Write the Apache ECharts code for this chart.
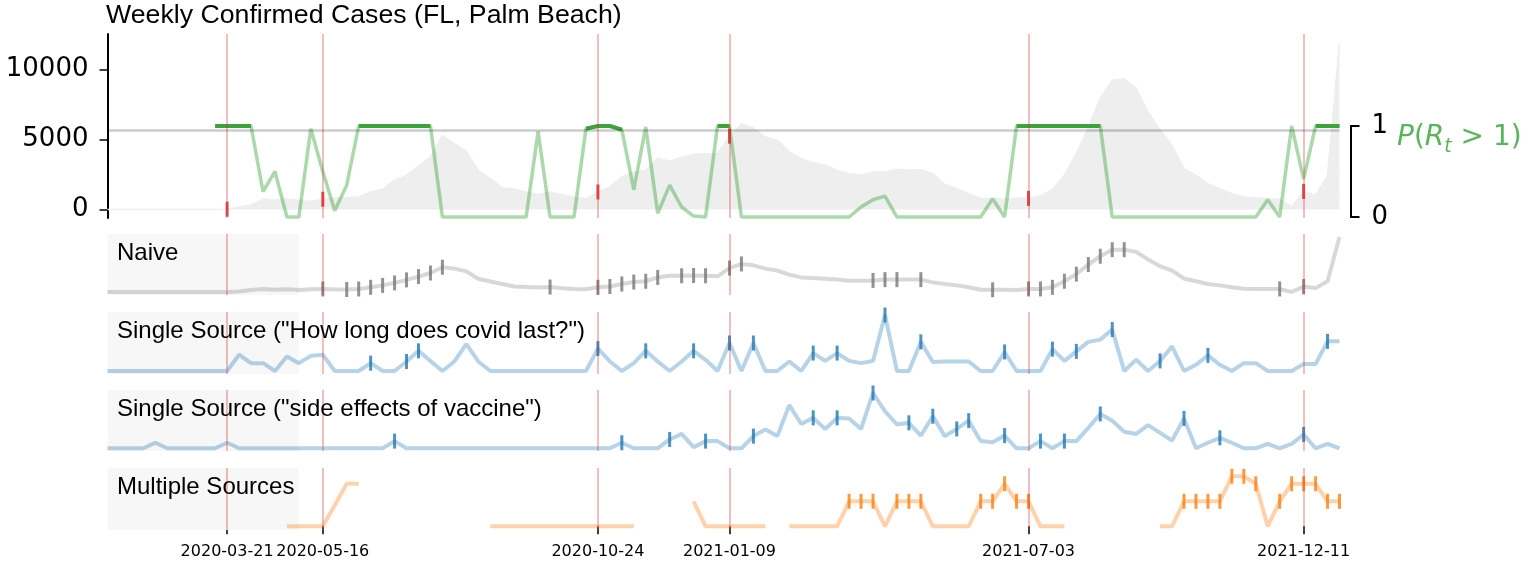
<!DOCTYPE html>
<html>
<head>
<meta charset="utf-8">
<script src="https://cdn.jsdelivr.net/npm/echarts@6/dist/echarts.min.js"></script>
<style>
  html, body { margin: 0; padding: 0; background: #fff; }
  #chart { width: 1529px; height: 570px; }
</style>
</head>
<body>
<div id="chart"></div>
<script>
// weekly dates, 2020-01-11 .. 2022-01-01
const START = Date.UTC(2020, 0, 11);
const N_WEEKS = 104;
const categories = [];
for (let i = 0; i < N_WEEKS; i++) {
  categories.push(new Date(START + i * 7 * 864e5).toISOString().slice(0, 10));
}
const markedDates = ["2020-03-21", "2020-05-16", "2020-10-24", "2021-01-09", "2021-07-03", "2021-12-11"];
const caseTicks = [0, 5000, 10000];

// weekly confirmed cases (grey area)
const cases = [
  0, 0, 0, 0, 0, 0, 0, 0, 0, 0,
  30, 190, 310, 760, 670, 760, 670, 600, 740, 830,
  860, 900, 1260, 1450, 2100, 2450, 3120, 3760, 5310, 4710,
  4170, 2810, 2210, 1550, 1480, 1260, 1095, 1260, 1070, 905,
  785, 1260, 1620, 2330, 2690, 2810, 3690, 3450, 3760, 3930,
  4000, 4000, 5250, 6140, 5830, 5190, 4950, 4120, 3640, 3360,
  3170, 2810, 2570, 2450, 2690, 2690, 2880, 2810, 2860, 2570,
  1790, 1500, 1140, 790, 790, 740, 830, 800, 980, 1450,
  2450, 4000, 5900, 7930, 9240, 9360, 8690, 6980, 5670, 4600,
  2930, 2450, 1860, 1500, 1140, 900, 830, 790, 740, 190,
  1300, 1020, 2450, 11930
];

// P(R_t > 1)
const pRt = [
  null, null, null, null, null, null, null, null, null, 1,
  1, 1, 1, 0.28, 0.5, 0, 0, 0.97, 0.5, 0.07,
  0.35, 1, 1, 1, 1, 1, 1, 1, 0, 0,
  0, 0, 0, 0, 0, 0, 0.94, 0, 0, 0,
  0.97, 1, 1, 0.96, 0.3, 0.99, 0.04, 0.35, 0.11, 0.01,
  0, 1, 1, 0, 0, 0, 0, 0, 0, 0,
  0, 0, 0, 0.11, 0.19, 0.23, 0, 0, 0, 0,
  0, 0, 0, 0, 0.2, 0, 1, 1, 1, 1,
  1, 1, 1, 1, 0, 0, 0, 0, 0, 0,
  0, 0, 0, 0, 0, 0, 0, 0.19, 0, 1,
  0.42, 1, 1, 1
];
const THRESH = 0.95;

// lower panels (normalised)
const naive = [
  0, 0, 0, 0, 0, 0, 0, 0, 0, 0,
  0, 0.01, 0.035, 0.055, 0.04, 0.05, 0.035, 0.05, 0.055, 0.045,
  0.045, 0.055, 0.085, 0.12, 0.165, 0.22, 0.28, 0.345, 0.45, 0.425,
  0.375, 0.24, 0.19, 0.145, 0.1, 0.09, 0.08, 0.09, 0.07, 0.055,
  0.05, 0.085, 0.1, 0.145, 0.18, 0.195, 0.265, 0.295, 0.295, 0.3,
  0.295, 0.285, 0.435, 0.51, 0.485, 0.425, 0.39, 0.315, 0.265, 0.255,
  0.24, 0.225, 0.205, 0.205, 0.21, 0.225, 0.225, 0.225, 0.225, 0.175,
  0.145, 0.12, 0.085, 0.04, 0.04, 0.04, 0.035, 0.055, 0.055, 0.085,
  0.195, 0.325, 0.5, 0.65, 0.77, 0.77, 0.73, 0.59, 0.47, 0.39,
  0.245, 0.195, 0.145, 0.12, 0.085, 0.06, 0.055, 0.055, 0.055, 0,
  0.1, 0.07, 0.195, 1
];
const naiveTicks = [18, 20, 21, 22, 23, 24, 25, 26, 27, 28, 37, 41, 42, 43, 44, 45, 46, 48, 49, 50,
  52, 53, 64, 65, 66, 68, 74, 77, 78, 79, 80, 81, 82, 83, 84, 85, 98, 100];

const ssCovidLast = [
  0, 0, 0, 0, 0, 0, 0, 0, 0, 0,
  0, 0.29, 0.14, 0.14, 0, 0.26, 0.14, 0.27, 0.29, 0,
  0, 0, 0.14, 0, 0, 0.17, 0.36, 0.18, 0, 0.17,
  0.48, 0.17, 0, 0, 0, 0, 0, 0, 0, 0,
  0, 0.4, 0.17, 0, 0.14, 0.36, 0.17, 0, 0.17, 0.36,
  0.2, 0, 0.5, 0, 0.5, 0, 0, 0.17, 0, 0.32,
  0.18, 0.32, 0.18, 0.14, 0.18, 1, 0, 0, 0.52, 0.16,
  0.17, 0.17, 0.17, 0, 0, 0.34, 0, 0, 0, 0.39,
  0.18, 0.35, 0.52, 0.56, 0.74, 0, 0.2, 0, 0.18, 0.44,
  0, 0.11, 0.28, 0.11, 0, 0.14, 0.14, 0, 0, 0,
  0.125, 0.125, 0.53, 0.53
];
const ssCovidLastTicks = [22, 25, 26, 41, 45, 49, 52, 54, 59, 61, 65, 68, 75, 79, 81, 84, 88, 92, 102];

const ssVaccine = [
  0, 0, 0, 0, 0.1, 0, 0, 0, 0, 0,
  0.1, 0, 0, 0, 0, 0, 0, 0, 0, 0,
  0, 0, 0, 0, 0.13, 0, 0, 0, 0, 0,
  0, 0, 0, 0, 0, 0, 0, 0, 0, 0,
  0, 0, 0, 0.1, 0, 0, 0, 0.16, 0.26, 0.02,
  0.13, 0.13, 0, 0, 0.22, 0.34, 0.22, 0.78, 0.44, 0.55,
  0.35, 0.55, 0.54, 0.35, 1, 0.67, 0.43, 0.46, 0.23, 0.58,
  0.22, 0.35, 0.5, 0.13, 0.11, 0.23, 0, 0, 0.13, 0,
  0.13, 0.13, 0.37, 0.62, 0.5, 0.3, 0.26, 0.42, 0.28, 0.14,
  0.54, 0, 0.1, 0.19, 0.1, 0, 0, 0.08, 0, 0.08,
  0.25, 0, 0.08, 0
];
const ssVaccineTicks = [24, 43, 47, 50, 54, 59, 61, 64, 67, 69, 71, 72, 75, 78, 80, 83, 90, 93, 100];

const multiSources = [
  null, null, null, null, null, null, null, null, null, null,
  null, null, null, null, null, 0, 0, 0, 0, 0.42,
  0.85, 0.85, null, null, null, null, null, null, null, null,
  null, null, 0, 0, 0, 0, 0, 0, 0, 0,
  0, 0, 0, 0, 0, null, null, null, null, 0.5,
  0, 0, 0, 0, 0, 0, null, 0, 0, 0,
  0, 0, 0.5, 0.5, 0.5, 0, 0.5, 0.5, 0.5, 0,
  0, 0, 0, 0.5, 0.5, 0.85, 0.5, 0.5, 0, 0,
  0, null, null, null, null, null, null, null, 0, 0,
  0.5, 0.5, 0.5, 0.5, 1, 1, 0.85, 0, 0.5, 0.85,
  0.85, 0.85, 0.5, 0.5
];
const multiTicks = [62, 63, 64, 66, 67, 68, 73, 74, 75, 76, 77, 90, 91, 92, 93, 94, 95, 96, 98, 99, 100, 101, 102, 103];

// ---- layout / styles ----
const GRID_LEFT = 107.5;
const GRID_RIGHT = 189.5;
const RED_LINE = "rgba(214,39,40,0.3)";
const SANS = "'Liberation Sans', Arial, sans-serif";
const DEJAVU = "'DejaVu Sans', sans-serif";
const GREEN_TXT = "#5ab45a";

const panels = [
  { label: "Naive", values: naive, ticks: naiveTicks, top: 234, height: 61, min: -0.055, max: 1.055,
    line: "rgba(127,127,127,0.3)", tick: "#777777" },
  { label: 'Single Source ("How long does covid last?")', values: ssCovidLast, ticks: ssCovidLastTicks,
    top: 312, height: 62, min: -0.054, max: 1.054, line: "rgba(31,119,180,0.32)", tick: "#1f77b4" },
  { label: 'Single Source ("side effects of vaccine")', values: ssVaccine, ticks: ssVaccineTicks,
    top: 390, height: 61, min: -0.049, max: 1.054, line: "rgba(31,119,180,0.32)", tick: "#1f77b4" },
  { label: "Multiple Sources", values: multiSources, ticks: multiTicks, top: 468, height: 62,
    min: -0.074, max: 1.166, line: "rgba(255,127,14,0.35)", tick: "#ff7f0e" },
];

const redLines = markedDates.map((d) => ({ xAxis: d }));
const isMarked = (index, value) => markedDates.indexOf(value) >= 0;

function makeGrid(top, height) {
  return { left: GRID_LEFT, right: GRID_RIGHT, top: top, height: height,
    containLabel: false, outerBoundsMode: "none" };
}

const grids = [makeGrid(34, 184), makeGrid(126, 91)];
const xAxes = [0, 1].map((g) => ({
  type: "category", gridIndex: g, data: categories, boundaryGap: false, show: false,
}));
const yAxes = [
  {
    type: "value", gridIndex: 0, min: -600, max: 12550,
    splitLine: { show: false },
    axisLine: { show: true, lineStyle: { color: "#000", width: 2 } },
    axisTick: { show: true, length: 8, customValues: caseTicks, lineStyle: { color: "#000", width: 1.5 } },
    axisLabel: { customValues: caseTicks, formatter: (v) => String(v),
      fontSize: 26, fontFamily: DEJAVU, color: "#000", margin: 19 },
  },
  {
    type: "value", gridIndex: 1, position: "right", offset: 11, min: 0, max: 1, interval: 1,
    splitLine: { show: false },
    axisLine: { show: true, lineStyle: { color: "#000", width: 2 } },
    axisTick: { show: true, length: 9, lineStyle: { color: "#000", width: 2 } },
    axisLabel: { fontSize: 26, fontFamily: DEJAVU, color: "#000", margin: 21 },
  },
];

const series = [
  {
    type: "line", xAxisIndex: 0, yAxisIndex: 0, data: cases, showSymbol: false, z: 1,
    lineStyle: { color: "#eeeeee", width: 1.5 },
    areaStyle: { color: "#eeeeee", opacity: 1 },
    markLine: {
      silent: true, symbol: "none", label: { show: false },
      lineStyle: { color: RED_LINE, width: 2, type: "solid" }, data: redLines,
    },
  },
  {
    type: "line", xAxisIndex: 1, yAxisIndex: 1, data: pRt, showSymbol: false, clip: false, z: 3,
    lineStyle: { color: "rgba(44,160,44,0.4)", width: 3.5 },
    markLine: {
      silent: true, symbol: "none", label: { show: false },
      lineStyle: { color: "rgba(0,0,0,0.2)", width: 2.5, type: "solid" },
      data: [{ yAxis: THRESH }],
    },
  },
  {
    type: "line", xAxisIndex: 1, yAxisIndex: 1, showSymbol: false, clip: false, z: 4,
    data: pRt.map((v) => (v !== null && v >= THRESH ? v : null)),
    lineStyle: { color: "#3ba53b", width: 4 },
  },
  {
    type: "scatter", xAxisIndex: 0, yAxisIndex: 0, symbol: "rect", symbolSize: [3, 15], z: 5,
    itemStyle: { color: "#d62728" },
    data: markedDates.map((d) => [d, cases[categories.indexOf(d)]]),
  },
];

const mathStyle = (size, italic, align) => ({
  fontSize: size, fontStyle: italic ? "italic" : "normal", fontWeight: "normal",
  fontFamily: DEJAVU, color: GREEN_TXT, lineHeight: 38, verticalAlign: align,
});

const titles = [
  { text: "Weekly Confirmed Cases (FL, Palm Beach)", left: 106, top: 2, padding: 0,
    textStyle: { fontSize: 26.7, fontWeight: "normal", fontFamily: SANS, color: "#000" } },
  { text: "{i|P}{n|(}{i|R}{s|t}{n| > 1)}", left: 1397, top: 119, padding: 0,
    textStyle: {
      fontWeight: "normal",
      rich: { i: mathStyle(28, true, "middle"), n: mathStyle(28, false, "middle"), s: mathStyle(19, true, "bottom") },
    } },
];

panels.forEach((p, k) => {
  const g = k + 2;
  const last = k === panels.length - 1;
  grids.push(makeGrid(p.top, p.height));
  xAxes.push({
    type: "category", gridIndex: g, data: categories, boundaryGap: false,
    axisLine: { show: false },
    axisTick: { show: last, interval: isMarked, length: 8, lineStyle: { color: "#000", width: 1.5 } },
    axisLabel: { show: last, interval: isMarked, fontSize: 16, fontFamily: DEJAVU, color: "#000", margin: 14 },
    splitLine: { show: false },
  });
  yAxes.push({ type: "value", gridIndex: g, min: p.min, max: p.max, show: false, splitLine: { show: false } });
  // label box
  series.push({
    type: "line", xAxisIndex: g, yAxisIndex: g, data: [], z: 0, silent: true,
    markArea: {
      silent: true, itemStyle: { color: "#f7f7f7" },
      data: [[{ xAxis: categories[0] }, { xAxis: categories[16] }]],
    },
  });
  series.push({
    type: "line", xAxisIndex: g, yAxisIndex: g, data: p.values, showSymbol: false, z: 2,
    lineStyle: { color: p.line, width: 4 },
  });
  series.push({
    type: "scatter", xAxisIndex: g, yAxisIndex: g, symbol: "rect", symbolSize: [3, 15], z: 3,
    itemStyle: { color: p.tick },
    data: p.ticks.map((i) => [categories[i], p.values[i]]),
  });
  // red date lines on top
  series.push({
    type: "line", xAxisIndex: g, yAxisIndex: g, data: [], z: 6, silent: true,
    markLine: {
      silent: true, symbol: "none", label: { show: false },
      lineStyle: { color: RED_LINE, width: 2, type: "solid" }, data: redLines,
    },
  });
  titles.push({ text: p.label, left: 117, top: p.top + 7, padding: 0,
    textStyle: { fontSize: 24, fontWeight: "normal", fontFamily: SANS, color: "#000" } });
});

const chart = echarts.init(document.getElementById("chart"));
chart.setOption({
  animation: false,
  backgroundColor: "#fff",
  title: titles,
  grid: grids,
  xAxis: xAxes,
  yAxis: yAxes,
  series: series,
});
</script>
</body>
</html>
